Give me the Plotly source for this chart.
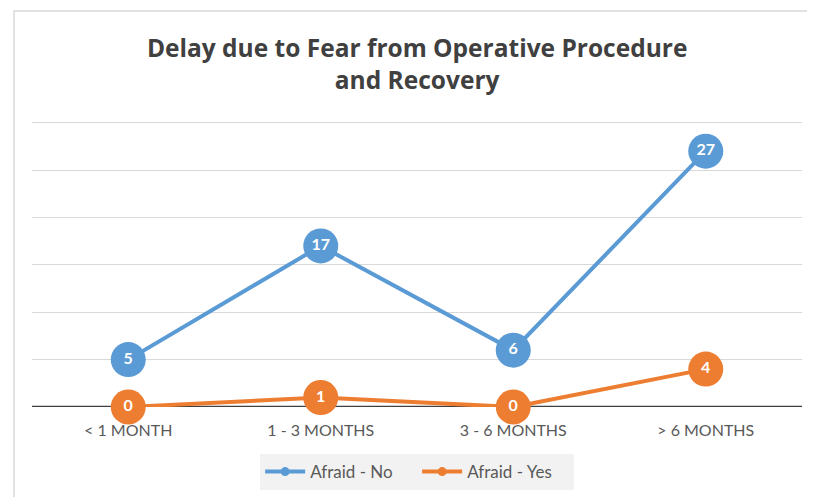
import plotly.graph_objects as go

categories = ["< 1 MONTH", "1 - 3 MONTHS", "3 - 6 MONTHS", "> 6 MONTHS"]
afraid_no = [5, 17, 6, 27]
afraid_yes = [0, 1, 0, 4]
gridvals = [5, 10, 15, 20, 25, 30]

BLUE = "#5B9BD5"
ORANGE = "#ED7D31"
FONT = "Lato"

fig = go.Figure()
for name, vals, col in [("Afraid - No", afraid_no, BLUE), ("Afraid - Yes", afraid_yes, ORANGE)]:
    fig.add_trace(go.Scatter(
        x=list(range(len(categories))), y=vals, name=name,
        mode="lines+markers+text", showlegend=False,
        line=dict(color=col, width=4),
        marker=dict(color=col, size=35),
        text=[str(v) for v in vals], textposition="middle center",
        textfont=dict(family=FONT, size=16, color="white", weight="bold"),
        cliponaxis=False,
    ))
# legend entries (small markers like the original legend)
for name, col in [("Afraid - No", BLUE), ("Afraid - Yes", ORANGE)]:
    fig.add_trace(go.Scatter(
        x=[None], y=[None], name=name, mode="lines+markers",
        line=dict(color=col, width=4), marker=dict(color=col, size=9),
    ))

fig.update_layout(
    width=807, height=489,
    margin=dict(l=24, r=13, t=110, b=90, autoexpand=False),
    paper_bgcolor="white", plot_bgcolor="white",
    font=dict(family=FONT, color="#595959"),
    title=dict(text="Delay due to Fear from Operative Procedure<br>and Recovery",
               x=0.507, xanchor="center", y=0.899, yanchor="middle",
               font=dict(family="Open Sans", size=24.5, color="#404040", weight="bold")),
    showlegend=True,
    legend=dict(orientation="h", x=0.507, xanchor="center", xref="container",
                y=0.051, yanchor="middle", yref="container",
                bgcolor="#f2f2f2", font=dict(family=FONT, size=17, color="#595959"),
                itemwidth=40, entrywidth=102, tracegroupgap=0),
    xaxis=dict(range=[-0.5, 3.5], tickvals=list(range(len(categories))), ticktext=categories,
               showgrid=False, zeroline=False, showline=False, ticks="",
               ticklabelstandoff=12,
               tickfont=dict(family=FONT, size=16, color="#595959")),
    yaxis=dict(range=[0, 30.5], tickvals=gridvals, showticklabels=False,
               showgrid=True, gridcolor="#d9d9d9", gridwidth=1, zeroline=False, showline=False),
    shapes=[
        dict(type="line", xref="paper", yref="y", x0=0, x1=1, y0=0, y1=0,
             line=dict(color="#404040", width=2.5), layer="below"),
        dict(type="rect", xref="paper", yref="paper",
             x0=(14 - 32) / 770, x1=(814 - 32) / 770, y0=(407 - 520) / 289, y1=(407 - 11) / 289,
             line=dict(color="#d9d9d9", width=1.5), layer="below"),
    ],
)

fig.write_html("out.html")
